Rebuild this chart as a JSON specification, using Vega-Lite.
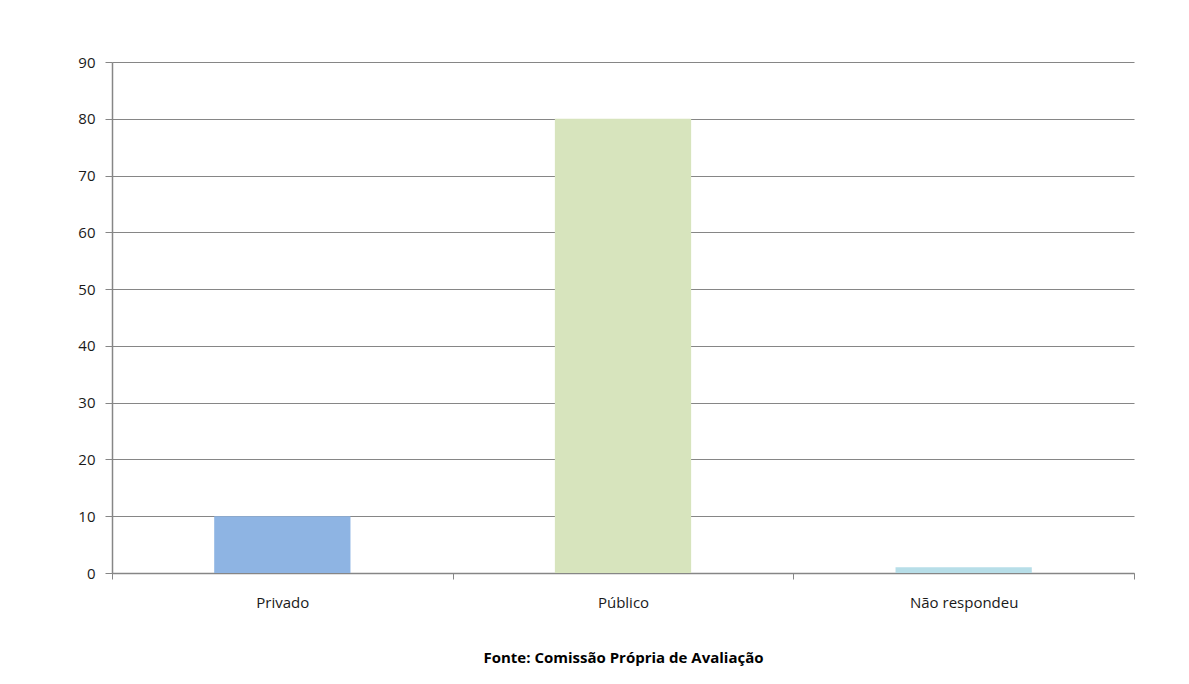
{
  "$schema": "https://vega.github.io/schema/vega-lite/v6.json",
  "autosize": "none",
  "width": 1022,
  "height": 511,
  "padding": {"left": 112, "top": 62, "right": 55, "bottom": 111},
  "background": "white",
  "data": {
    "values": [
      {"categoria": "Privado", "valor": 10},
      {"categoria": "Público", "valor": 80},
      {"categoria": "Não respondeu", "valor": 1}
    ]
  },
  "mark": {"type": "bar", "width": {"band": 0.4}},
  "encoding": {
    "x": {
      "field": "categoria",
      "type": "nominal",
      "sort": null,
      "scale": {"paddingInner": 0, "paddingOuter": 0},
      "axis": {
        "title": "Fonte: Comissão Própria de Avaliação",
        "titleFont": "Open Sans",
        "titleFontSize": 15,
        "titleFontWeight": "bold",
        "titleColor": "#000000",
        "titlePadding": 40,
        "labelAngle": 0,
        "labelFont": "Open Sans",
        "labelFontSize": 15,
        "labelColor": "#1a1a1a",
        "labelPadding": 16,
        "tickBand": "extent",
        "tickSize": 6,
        "tickColor": "#868686",
        "domainColor": "#868686",
        "domainWidth": 1.5,
        "grid": false
      }
    },
    "y": {
      "field": "valor",
      "type": "quantitative",
      "scale": {"domain": [0, 90], "nice": false},
      "axis": {
        "title": null,
        "values": [0, 10, 20, 30, 40, 50, 60, 70, 80, 90],
        "labelFont": "Open Sans",
        "labelFontSize": 15,
        "labelColor": "#1a1a1a",
        "labelPadding": 10,
        "tickSize": 7,
        "tickColor": "#868686",
        "domainColor": "#868686",
        "domainWidth": 1.5,
        "gridColor": "#868686",
        "gridWidth": 1.2
      }
    },
    "color": {
      "field": "categoria",
      "type": "nominal",
      "scale": {
        "domain": ["Privado", "Público", "Não respondeu"],
        "range": ["#8EB4E3", "#D7E4BD", "#B7DEE8"]
      },
      "legend": null
    }
  },
  "config": {"view": {"stroke": null}}
}
